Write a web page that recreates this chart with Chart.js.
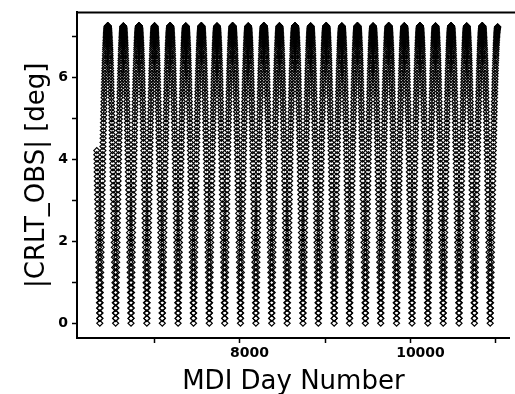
<!DOCTYPE html>
<html>
<head>
<meta charset="utf-8">
<script src="https://cdn.jsdelivr.net/npm/chart.js@4"></script>
<style>
  html, body { margin: 0; padding: 0; background: #fff; overflow: hidden; }
</style>
</head>
<body>
<canvas id="chart" width="515" height="394"></canvas>
<script>
// MDI days where CRLT_OBS crosses zero (bottoms of the V's)
const zeroCrossings = [6365, 6550, 6730, 6915, 7096, 7281, 7461, 7646, 7826, 8011,
  8191, 8376, 8557, 8742, 8922, 9107, 9287, 9472, 9652, 9837,
  10018, 10203, 10383, 10568, 10748, 10933];

// |CRLT_OBS| [deg] for 0, 1, 2 ... days away from a zero crossing
const profile = [0, 0.12, 0.25, 0.37, 0.50, 0.62, 0.75, 0.87, 0.99, 1.12,
  1.24, 1.36, 1.49, 1.61, 1.73, 1.85, 1.97, 2.09, 2.21, 2.33,
  2.45, 2.56, 2.68, 2.79, 2.91, 3.02, 3.14, 3.25, 3.36, 3.47,
  3.58, 3.69, 3.79, 3.90, 4.00, 4.11, 4.21, 4.31, 4.41, 4.51,
  4.60, 4.70, 4.79, 4.89, 4.98, 5.07, 5.16, 5.24, 5.33, 5.41,
  5.50, 5.58, 5.65, 5.73, 5.81, 5.88, 5.95, 6.02, 6.09, 6.16,
  6.22, 6.29, 6.35, 6.41, 6.46, 6.52, 6.57, 6.63, 6.68, 6.72,
  6.77, 6.81, 6.85, 6.89, 6.93, 6.97, 7.00, 7.03, 7.06, 7.09,
  7.11, 7.14, 7.16, 7.18, 7.19, 7.21, 7.22, 7.23, 7.24, 7.24,
  7.25, 7.25, 7.25];

// first and last observation day
const firstDay = 6329;
const lastDay = 11020;

const xTicks = [7000, 8000, 9000, 10000, 11000];
const xLabels = [8000, 10000];
const yTicks = [0, 1, 2, 3, 4, 5, 6, 7];
const yLabels = [0, 2, 4, 6];

const points = [];
for (let day = firstDay; day <= lastDay; day++) {
  let d = Infinity;
  zeroCrossings.forEach((z) => { d = Math.min(d, Math.abs(day - z)); });
  points.push({ x: day, y: profile[Math.min(d, profile.length - 1)] });
}

const topLine = {
  id: "topLine",
  afterDraw(chart) {
    const { ctx, chartArea } = chart;
    ctx.save();
    ctx.strokeStyle = "#000";
    ctx.lineWidth = 2;
    ctx.beginPath();
    ctx.moveTo(chartArea.left - 1, chartArea.top);
    ctx.lineTo(chart.width, chartArea.top);
    ctx.stroke();
    ctx.restore();
  },
};

const tickFont = { family: "DejaVu Sans", size: 14, weight: "bold" };
const titleFont = { family: "DejaVu Sans", size: 26 };

new Chart(document.getElementById("chart").getContext("2d"), {
  type: "scatter",
  data: {
    datasets: [
      {
        data: points,
        pointStyle: "rectRot",
        pointRadius: 3,
        borderColor: "#000",
        borderWidth: 1.2,
        backgroundColor: "rgba(0,0,0,0)",
      },
    ],
  },
  options: {
    responsive: false,
    animation: false,
    events: [],
    layout: { padding: { top: 10, right: 0, left: 0, bottom: 0 } },
    plugins: { legend: { display: false }, tooltip: { enabled: false } },
    scales: {
      x: {
        type: "linear",
        min: 6098,
        max: 11162,
        afterBuildTicks: (s) => { s.ticks = xTicks.map((v) => ({ value: v })); },
        afterFit: (s) => { s.height = 56; },
        ticks: {
          callback: (v) => (xLabels.includes(v) ? String(v) : ""),
          color: "#000",
          font: tickFont,
          maxRotation: 0,
          autoSkip: false,
          labelOffset: 10,
          padding: 2,
        },
        grid: { drawOnChartArea: false, tickLength: 5, tickColor: "#000", tickWidth: 1.5 },
        border: { color: "#000", width: 2 },
        title: { display: true, text: "MDI Day Number", color: "#000", font: titleFont, padding: { top: 0, bottom: -4 } },
      },
      y: {
        min: -0.36,
        max: 7.58,
        afterBuildTicks: (s) => { s.ticks = yTicks.map((v) => ({ value: v })); },
        afterFit: (s) => { s.width = 77; },
        ticks: {
          callback: (v) => (yLabels.includes(v) ? String(v) : ""),
          color: "#000",
          font: tickFont,
          autoSkip: false,
          padding: 4,
        },
        grid: { drawOnChartArea: false, tickLength: 5, tickColor: "#000", tickWidth: 1.5 },
        border: { color: "#000", width: 2 },
        title: { display: true, text: "|CRLT_OBS| [deg]", color: "#000", font: titleFont, padding: { top: 22, bottom: 0 } },
      },
    },
  },
  plugins: [topLine],
});
</script>
</body>
</html>
